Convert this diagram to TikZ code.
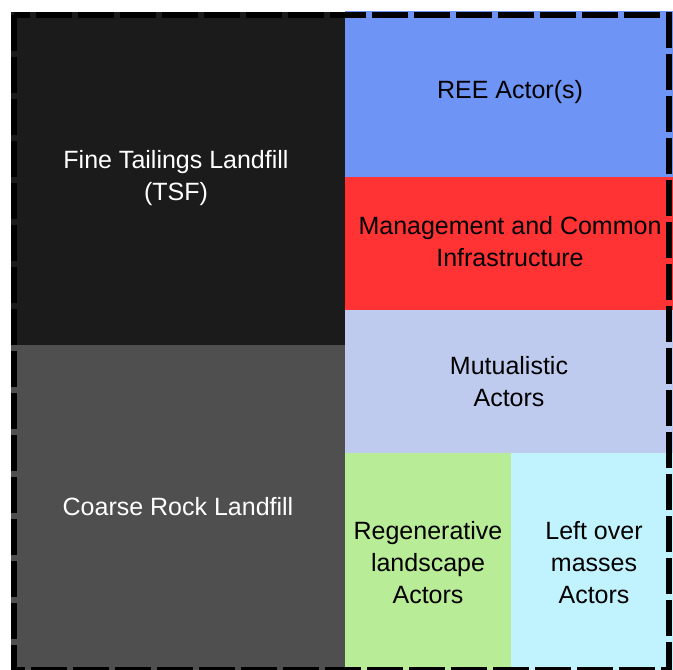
\documentclass[tikz,border=0pt]{standalone}
\usepackage{fontspec}
\setmainfont{Liberation Sans}
\definecolor{cdark}{HTML}{1B1B1B}
\definecolor{ccoarse}{HTML}{4F4F4F}
\definecolor{cblue}{HTML}{6E95F5}
\definecolor{cred}{HTML}{FF3333}
\definecolor{clav}{HTML}{BFCBEE}
\definecolor{cgreen}{HTML}{B9EC97}
\definecolor{ccyan}{HTML}{C1F3FE}
\begin{document}
\begin{tikzpicture}[x=1pt,y=-1pt,
  lbl/.style={align=center,font=\fontsize{25}{32}\selectfont,inner sep=0pt},
  frame/.style={draw=black,line width=6pt,dash pattern=on 36pt off 6pt,line join=miter}]
\useasboundingbox (0,0) rectangle (673,670);
\clip (0,0) rectangle (673,670);
\fill[white] (0,0) rectangle (673,670);
% cells
\fill[cdark]   (11,12)  rectangle (345,345);
\fill[ccoarse] (11,345) rectangle (345,673);
\fill[cblue]   (345,11) rectangle (673,177);
\fill[cred]    (345,177) rectangle (673,310);
\fill[clav]    (345,310) rectangle (673,453);
\fill[cgreen]  (345,453) rectangle (511,673);
\fill[ccyan]   (511,453) rectangle (673,673);
% labels
\node[lbl,text=white] (tsf) at (176,178) {Fine Tailings Landfill\\(TSF)};
\node[lbl,text=white] (crl) at (178,507) {Coarse Rock Landfill};
\node[lbl] (ree) at (510,92) {REE Actor(s)};
\node[lbl] (mgt) at (510,242) {Management and Common\\Infrastructure};
\node[lbl] (mut) at (509,382) {Mutualistic\\Actors};
\node[lbl] (reg) at (428,563) {Regenerative\\landscape\\Actors};
\node[lbl] (lom) at (594,563) {Left over\\masses\\Actors};
% dashed frame
\draw[frame] (14,15) rectangle (669,670);
\end{tikzpicture}
\end{document}
